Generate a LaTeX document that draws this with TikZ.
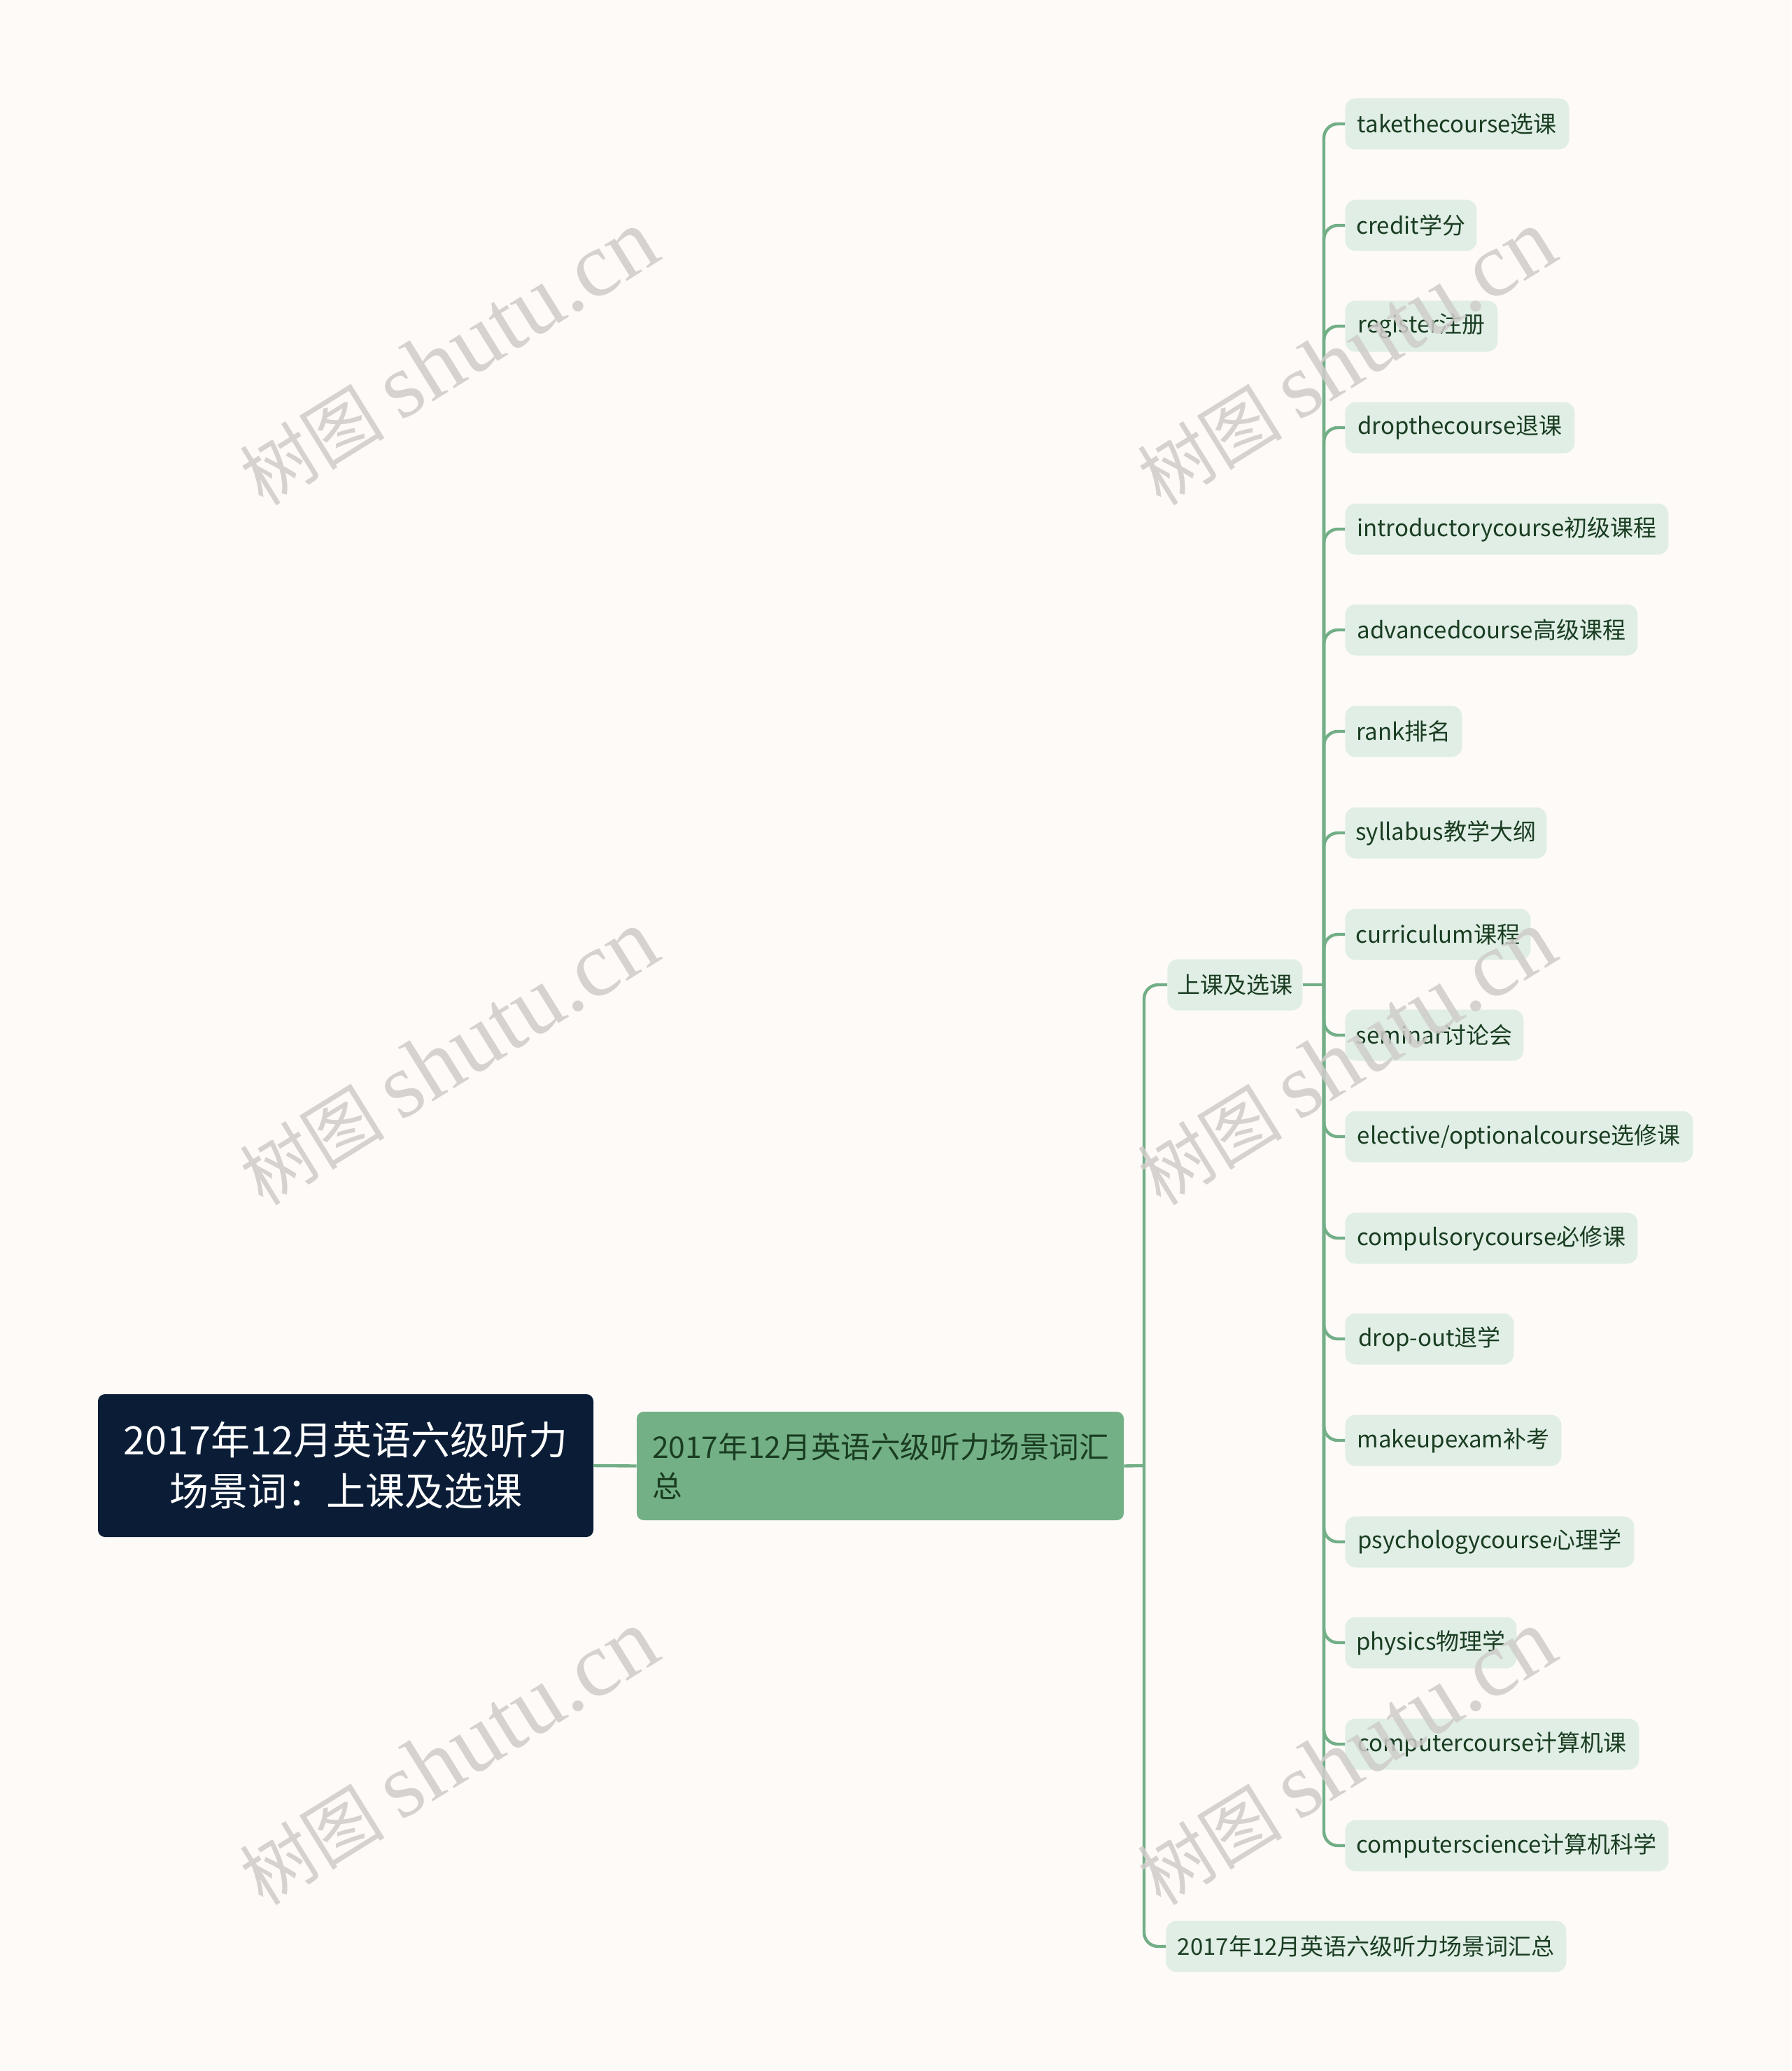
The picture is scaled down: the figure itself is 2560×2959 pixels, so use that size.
\documentclass[tikz,border=0pt]{standalone}
\usepackage{fontspec}
\setmainfont{Noto Sans CJK SC}
\newfontfamily\wmserif{Liberation Serif}
\usetikzlibrary{calc}
\definecolor{bgc}{HTML}{FDFAF8}
\definecolor{rootc}{HTML}{0B1D36}
\definecolor{midc}{HTML}{73B086}
\definecolor{leafc}{HTML}{E0EEE5}
\definecolor{linec}{HTML}{72AE86}
\definecolor{txtc}{HTML}{1A3D22}
\definecolor{wmc}{HTML}{CFCCCA}
\tikzset{
  leafbox/.style={anchor=west, fill=leafc, rounded corners=7.5pt, minimum height=36.5pt,
    inner sep=0pt, text=txtc, font=\fontsize{16.5}{20}\selectfont},
  conn/.style={draw=linec, line width=2.2pt, rounded corners=10pt},
  wmark/.style={rotate=31.8, text=wmc, opacity=0.85, inner sep=0pt, font=\fontsize{52}{60}\selectfont}
}
\begin{document}
\begin{tikzpicture}[x=0.5pt,y=-0.5pt]
\fill[bgc] (0,0) rectangle (2560,2959);
\useasboundingbox (0,0) rectangle (2560,2959);

% root and main
\node[fill=rootc, rounded corners=5pt, minimum width=354pt, minimum height=102pt, inner sep=0pt,
  text=white, align=center, font=\fontsize{28}{36.5}\selectfont] (root) at (494,2094)
  {2017年12月英语六级听力\\场景词：上课及选课};
\node[fill=midc, rounded corners=5pt, minimum width=348pt, minimum height=77.5pt, inner sep=0pt,
  text=txtc, text width=326pt, align=left, font=\fontsize{21.3}{28}\selectfont] (mid) at (1258,2094.5)
  {2017年12月英语六级听力场景词汇\\总};

% second level
\node[leafbox, minimum width=96.5pt] (sk) at (1668,1407) {上课及选课};
\node[leafbox, minimum width=286pt] (sum) at (1666,2781) {2017年12月英语六级听力场景词汇总};

% leaves
\node[leafbox, minimum width=160pt] (l1) at (1922,177) {takethecourse选课};
\node[leafbox, minimum width=94pt] (l2) at (1922,322) {credit学分};
\node[leafbox, minimum width=109pt] (l3) at (1922,466) {register注册};
\node[leafbox, minimum width=164pt] (l4) at (1922,611) {dropthecourse退课};
\node[leafbox, minimum width=231pt] (l5) at (1922,756) {introductorycourse初级课程};
\node[leafbox, minimum width=209pt] (l6) at (1922,900) {advancedcourse高级课程};
\node[leafbox, minimum width=83.5pt] (l7) at (1922,1045) {rank排名};
\node[leafbox, minimum width=144pt] (l8) at (1922,1190) {syllabus教学大纲};
\node[leafbox, minimum width=132.5pt] (l9) at (1922,1335) {curriculum课程};
\node[leafbox, minimum width=127.5pt] (l10) at (1922,1479) {seminar讨论会};
\node[leafbox, minimum width=248.5pt] (l11) at (1922,1624) {elective/optionalcourse选修课};
\node[leafbox, minimum width=209pt] (l12) at (1922,1769) {compulsorycourse必修课};
\node[leafbox, minimum width=120.5pt] (l13) at (1922,1913) {drop-out退学};
\node[leafbox, minimum width=154.5pt] (l14) at (1922,2058) {makeupexam补考};
\node[leafbox, minimum width=206.5pt] (l15) at (1922,2203) {psychologycourse心理学};
\node[leafbox, minimum width=122.5pt] (l16) at (1922,2347) {physics物理学};
\node[leafbox, minimum width=210pt] (l17) at (1922,2492) {computercourse计算机课};
\node[leafbox, minimum width=231pt] (l18) at (1922,2637) {computerscience计算机科学};

% junctions
\coordinate (j1) at (1635,2094);
\coordinate (j2) at (1892,1407);

% connectors
\draw[conn] (root.east) -- (mid.west);
\draw[conn] (mid.east) -- (j1);
\draw[conn] (j1) |- (sk.west);
\draw[conn] (j1) |- (sum.west);
\draw[conn] (sk.east) -- (j2);
\foreach \i in {1,...,18} {
  \draw[conn] (j2) |- (l\i.west);
}

% watermarks
\foreach \px/\py in {641/511, 641/1511, 641/2511, 1924/511, 1924/1511, 1924/2511} {
  \node[wmark] (wm) at (\px,\py) {树图 {\wmserif\fontsize{66}{70}\selectfont shutu.cn}};
}
\end{tikzpicture}
\end{document}
